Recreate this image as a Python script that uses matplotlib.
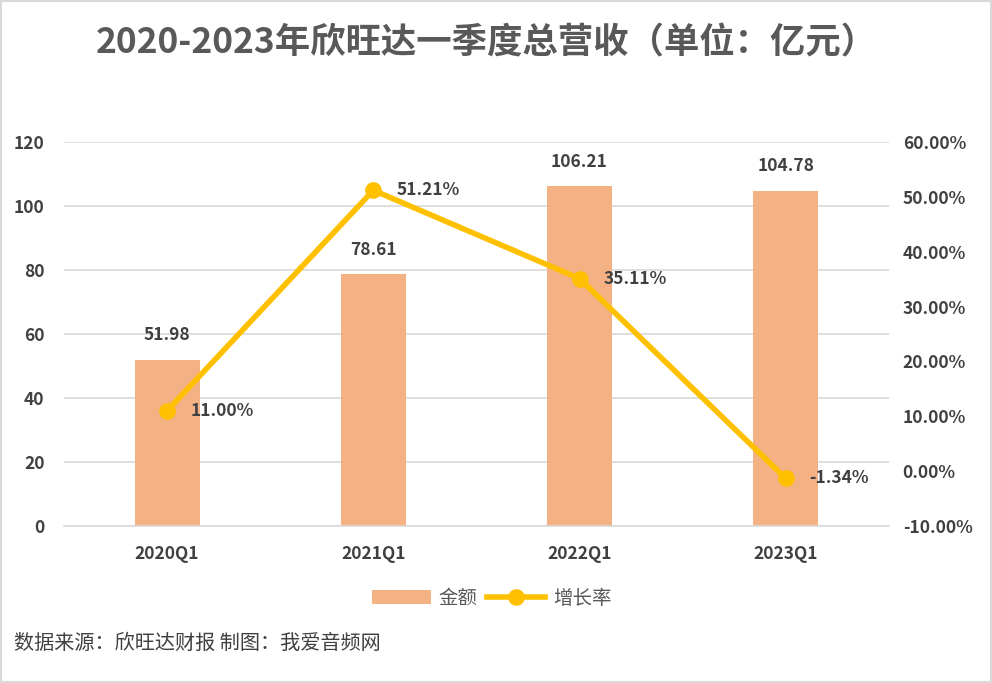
import matplotlib
matplotlib.use("Agg")
import matplotlib.pyplot as plt
from matplotlib.patches import Rectangle

plt.rcParams['font.family'] = ['Noto Sans CJK SC', 'DejaVu Sans']

categories = ["2020Q1", "2021Q1", "2022Q1", "2023Q1"]
revenue = [51.98, 78.61, 106.21, 104.78]
growth = [11.00, 51.21, 35.11, -1.34]
left_ticks = [0, 20, 40, 60, 80, 100, 120]
right_ticks = [-10, 0, 10, 20, 30, 40, 50, 60]

fig = plt.figure(figsize=(9.92, 6.83), dpi=100)
fig.patches.append(Rectangle((0, 0), 1, 1, transform=fig.transFigure,
                             fill=False, edgecolor='#d9d9d9', linewidth=3))

ax = fig.add_axes([0.0645, 0.2299, 0.8315, 0.5621])
x = list(range(len(categories)))
bars = ax.bar(x, revenue, width=0.315, color='#F4B183', zorder=2, label='金额')
ax.set_xlim(-0.5, len(categories) - 0.5)
ax.set_ylim(0, 120)
ax.set_yticks(left_ticks)
ax.grid(axis='y', color='#d9d9d9', linewidth=1.2, zorder=0)
for s in ['top', 'right', 'left']:
    ax.spines[s].set_visible(False)
ax.spines['bottom'].set_color('#d9d9d9')
ax.spines['bottom'].set_linewidth(1.2)
ax.tick_params(axis='both', length=0, labelsize=12.5, labelcolor='#404040')
ax.set_xticks(x)
ax.set_xticklabels(categories, fontweight='bold')
for lbl in ax.get_yticklabels():
    lbl.set_fontweight('bold')
ax.tick_params(axis='x', pad=14)
ax.tick_params(axis='y', pad=14)

for xi, v in zip(x, revenue):
    ax.annotate(f"{v:.2f}", (xi, v), xytext=(0, 11), textcoords='offset points',
                ha='center', va='bottom', fontsize=12.5, fontweight='bold', color='#404040')

ax2 = ax.twinx()
ax2.set_ylim(-10, 60)
ax2.set_yticks(right_ticks)
ax2.set_yticklabels([f"{t:.2f}%" for t in right_ticks], fontweight='bold')
for s in ['top', 'right', 'left', 'bottom']:
    ax2.spines[s].set_visible(False)
ax2.tick_params(axis='y', length=0, labelsize=12.5, labelcolor='#404040', pad=10)
line, = ax2.plot(x, growth, color='#FFC000', linewidth=4, marker='o', markersize=11,
                 zorder=3, label='增长率')
for xi, v in zip(x, growth):
    ax2.annotate(f"{v:.2f}%", (xi, v), xytext=(17, 0), textcoords='offset points',
                 ha='left', va='center', fontsize=12.5, fontweight='bold', color='#404040')

fig.text(0.49, 0.937, "2020-2023年欣旺达一季度总营收（单位：亿元）", ha='center', va='center',
         fontsize=25.5, fontweight='bold', color='#595959')

fig.legend(handles=[bars, line], labels=['金额', '增长率'], loc='center',
           bbox_to_anchor=(0.496, 0.124), ncol=2, frameon=False, fontsize=14,
           handlelength=3.0, columnspacing=0.5, handletextpad=0.4,
           labelcolor='#595959')

fig.text(0.014, 0.058, "数据来源：欣旺达财报 制图：我爱音频网", ha='left', va='center',
         fontsize=14.5, fontweight='medium', color='#404040')

fig.savefig("out.png", dpi=100)
